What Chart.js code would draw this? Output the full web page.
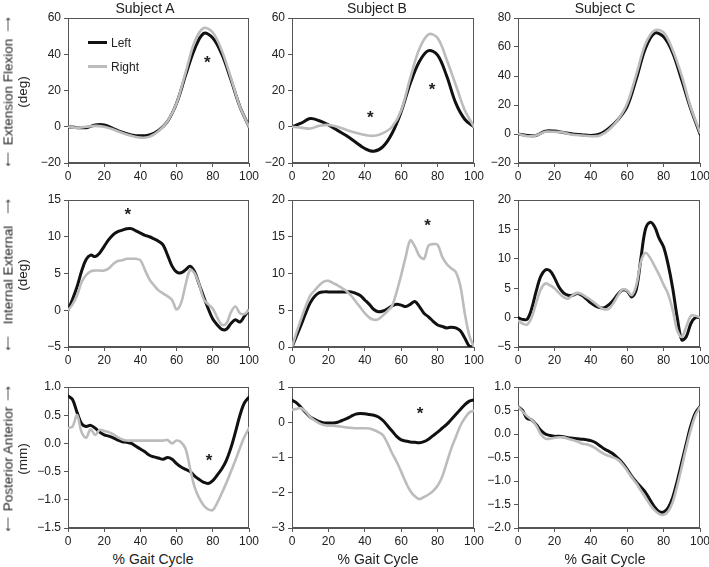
<!DOCTYPE html>
<html lang="en">
<head>
<meta charset="UTF-8">
<title>Knee kinematics, Subjects A-C</title>
<script src="https://cdn.jsdelivr.net/npm/chart.js@4.4.1/dist/chart.umd.min.js"></script>
<style>
  body { margin: 0; background: #fff; font-family: "Liberation Sans", Arial, sans-serif; color: #222; }
  #page { position: relative; width: 709px; height: 567px; overflow: hidden; }
  .panel { position: absolute; }
  .txt { position: absolute; white-space: nowrap; transform: translate(-50%, -50%); font-size: 14px; }
  .ylab { position: absolute; height: 16px; line-height: 16px; font-size: 13.5px; white-space: nowrap; color: #222;
          display: flex; justify-content: space-between; align-items: center; transform: rotate(-90deg);
          will-change: transform; }
  .ylab .arr { font-family: "DejaVu Sans", sans-serif; font-size: 10px; }
  .key { position: absolute; height: 3px; width: 19px; }
  .keytxt { position: absolute; font-size: 12px; line-height: 14px; }
</style>
</head>
<body>
<div id="page"></div>

<script>
// % gait cycle sampling
const gaitCoarse = [0,5,10,15,20,25,30,35,40,45,50,55,60,65,70,75,80,85,90,95,100];
const gaitFine = [0,2.5,5,7.5,10,12.5,15,17.5,20,22.5,25,27.5,30,32.5,35,37.5,40,42.5,45,47.5,50,
                  52.5,55,57.5,60,62.5,65,67.5,70,72.5,75,77.5,80,82.5,85,87.5,90,92.5,95,97.5,100];

const subjects = ['Subject A', 'Subject B', 'Subject C'];

// row 1: extension / flexion (deg)
const flexLeftA  = [0,-0.5,-0.5,1,1,-1,-3,-4.5,-5,-4.5,-2,3,13,28.5,43,51.5,49,40,26,11,0];
const flexRightA = [0,-0.5,0,0.5,0,-1.5,-3.5,-5,-6,-5.5,-2.5,3,13,30,47,54.5,52,42,27,11,0];
const flexLeftB  = [0,2,4.5,3.3,1,-2,-5,-8.5,-12,-13.5,-11,-3.6,8.3,24,36,42,39.5,28,13,4,0];
const flexRightB = [0,-0.5,-1,0.5,1,0,-1.8,-3.3,-4.5,-5,-3.5,0,9,27,43,51,49,37,23,9,0];
const flexLeftC  = [0,-1,-1,2,2,1,0,-0.5,-1,0,4,10,19,38,59,69.5,67,56,37,17,0];
const flexRightC = [0,-1.5,-1,1.5,1.5,1,-0.5,-1,-1.5,-1,3,10,21,41,62,71.5,70,58,40,18,1];

// row 2: internal / external rotation (deg)
const rotLeftA  = [0,1.5,3.2,5.3,6.9,7.5,7.3,7.8,8.7,9.6,10.3,10.7,10.9,11.1,11.1,10.8,10.5,10.2,10.0,9.7,9.4,
                   8.9,7.5,6.0,5.2,5.1,5.5,6.0,5.2,3.5,1.8,0.2,-1.2,-2.0,-2.6,-2.6,-1.8,-1.3,-1.6,-0.8,0];
const rotRightA = [0,0.8,2.0,3.8,4.8,5.3,5.4,5.4,5.4,5.7,6.3,6.7,6.8,7.0,7.0,7.0,6.8,5.5,4.2,3.4,2.7,
                   2.3,1.9,1.4,0.1,1.0,3.5,5.5,5.0,3.5,1.5,0.8,0.2,-1.0,-2.0,-1.8,-0.3,0.5,-0.4,-0.5,0];
const rotLeftB  = [0,1.5,3.0,4.6,6.0,6.9,7.4,7.5,7.5,7.5,7.5,7.5,7.5,7.5,7.3,7.0,6.4,5.8,5.1,4.8,4.9,
                   5.2,5.6,5.8,5.7,5.5,5.8,6.2,5.5,4.6,4.1,3.5,3.0,2.8,2.6,2.7,2.6,2.2,1.2,0.1,0];
const rotRightB = [0,2.0,3.8,5.5,7.0,7.7,8.4,8.9,9.0,8.7,8.4,8.0,7.6,7.0,6.2,5.4,4.6,4.0,3.7,3.8,4.3,
                   4.9,5.6,7.5,9.8,12.3,14.5,13.7,12.4,12.0,13.8,14.0,13.9,12.3,11.3,10.7,10.2,8.3,4.5,1.5,0];
const rotLeftC  = [0,-0.3,-0.3,1.5,4.5,7.0,8.1,8.0,6.8,5.2,4.2,3.8,3.8,4.1,3.8,3.2,2.5,2.0,1.7,1.7,2.2,
                   3.0,4.0,4.7,4.5,3.5,4.8,10.0,15.0,16.2,15.5,13.5,12.0,9.0,5.0,0,-3.8,-3.2,-1.0,0,0];
const rotRightC = [-0.5,-1.0,-1.2,0,2.5,4.8,5.8,5.5,5.0,4.2,3.5,3.2,3.8,4.2,4.0,3.5,3.0,2.4,1.8,1.4,1.5,
                   2.5,3.8,4.8,4.6,3.8,5.5,9.5,11.0,10.2,8.8,7.3,5.6,4.0,1.3,-2.2,-3.3,-1.5,0.3,0.3,0];

// row 3: posterior / anterior translation (mm)
const transLeftA  = [0.84,0.78,0.55,0.35,0.3,0.32,0.27,0.2,0.15,0.13,0.1,0.06,0.03,0.02,0,-0.05,-0.1,-0.15,-0.21,-0.24,-0.26,
                     -0.28,-0.25,-0.28,-0.36,-0.42,-0.46,-0.5,-0.58,-0.64,-0.69,-0.71,-0.66,-0.56,-0.45,-0.3,-0.08,0.2,0.5,0.72,0.82];
const transRightA = [0.27,0.3,0.5,0.2,0.1,0.25,0.15,0.24,0.22,0.2,0.16,0.11,0.07,0.05,0.05,0.05,0.05,0.05,0.05,0.05,0.05,
                     0.05,0.06,0.0,0.05,0.02,-0.1,-0.45,-0.78,-0.97,-1.1,-1.17,-1.18,-1.05,-0.88,-0.7,-0.5,-0.3,-0.08,0.12,0.27];
const transLeftB  = [0.62,0.55,0.42,0.28,0.15,0.08,0.02,-0.02,-0.02,-0.02,0.0,0.05,0.1,0.17,0.23,0.25,0.24,0.22,0.2,0.15,0.05,
                     -0.1,-0.25,-0.4,-0.5,-0.53,-0.56,-0.57,-0.58,-0.55,-0.48,-0.38,-0.28,-0.17,-0.06,0.08,0.22,0.36,0.5,0.6,0.63];
const transRightB = [0.35,0.38,0.4,0.3,0.15,0.05,-0.03,-0.08,-0.1,-0.1,-0.11,-0.13,-0.15,-0.16,-0.17,-0.17,-0.17,-0.18,-0.22,-0.28,-0.37,
                     -0.6,-0.88,-1.12,-1.4,-1.7,-1.95,-2.1,-2.18,-2.12,-2.05,-1.95,-1.8,-1.55,-1.15,-0.75,-0.42,-0.1,0.12,0.28,0.33];
const transLeftC  = [0.58,0.5,0.33,0.3,0.2,0.08,0.0,-0.03,-0.05,-0.05,-0.06,-0.08,-0.09,-0.1,-0.11,-0.12,-0.14,-0.18,-0.25,-0.32,-0.37,
                     -0.43,-0.52,-0.62,-0.75,-0.9,-1.02,-1.13,-1.24,-1.4,-1.55,-1.65,-1.66,-1.57,-1.35,-1.0,-0.6,-0.2,0.18,0.45,0.58];
const transRightC = [0.58,0.48,0.38,0.3,0.18,0.0,-0.1,-0.1,-0.08,-0.07,-0.07,-0.1,-0.13,-0.16,-0.2,-0.22,-0.25,-0.3,-0.37,-0.43,-0.47,
                     -0.5,-0.55,-0.65,-0.78,-0.92,-1.05,-1.2,-1.35,-1.5,-1.62,-1.7,-1.72,-1.65,-1.45,-1.1,-0.7,-0.28,0.1,0.4,0.57];

// y axis [min, max, step, decimals]
const flexTicksAB = [-20, 60, 20, 0];
const flexTicksC  = [-20, 80, 20, 0];
const rotTicksA   = [-5, 15, 5, 0];
const rotTicksB   = [0, 20, 5, 0];
const rotTicksC   = [-5, 20, 5, 0];
const transTicksA = [-1.5, 1, 0.5, 1];
const transTicksB = [-3, 1, 1, 0];
const transTicksC = [-2, 1, 0.5, 1];

// significance markers [% gait, value]
const starsFlexA  = [[77, 37]];
const starsFlexB  = [[43, 7], [77, 22.5]];
const starsRotA   = [[33, 13.5]];
const starsRotB   = [[74.5, 17]];
const starsTransA = [[78, -0.24]];
const starsTransB = [[70.3, 0.35]];

const rowLabels = [
  ['Extension', 'Flexion', '(deg)'],
  ['Internal', 'External', '(deg)'],
  ['Posterior', 'Anterior', '(mm)']
];

// plot box geometry
const colLeft = [68, 292, 518], colRight = [249, 474, 700];
const rowTop = [18, 200, 387], rowBottom = [163, 347, 528];
const AXIS_W = 50, AXIS_H = 22, PAD_T = 8, PAD_R = 14;

const panels = [
  { r: 0, c: 0, xs: gaitCoarse, left: flexLeftA, right: flexRightA, ticks: flexTicksAB, stars: starsFlexA },
  { r: 0, c: 1, xs: gaitCoarse, left: flexLeftB, right: flexRightB, ticks: flexTicksAB, stars: starsFlexB },
  { r: 0, c: 2, xs: gaitCoarse, left: flexLeftC, right: flexRightC, ticks: flexTicksC, stars: [] },
  { r: 1, c: 0, xs: gaitFine, left: rotLeftA, right: rotRightA, ticks: rotTicksA, stars: starsRotA },
  { r: 1, c: 1, xs: gaitFine, left: rotLeftB, right: rotRightB, ticks: rotTicksB, stars: starsRotB },
  { r: 1, c: 2, xs: gaitFine, left: rotLeftC, right: rotRightC, ticks: rotTicksC, stars: [] },
  { r: 2, c: 0, xs: gaitFine, left: transLeftA, right: transRightA, ticks: transTicksA, stars: starsTransA },
  { r: 2, c: 1, xs: gaitFine, left: transLeftB, right: transRightB, ticks: transTicksB, stars: starsTransB },
  { r: 2, c: 2, xs: gaitFine, left: transLeftC, right: transRightC, ticks: transTicksC, stars: [] }
];

const page = document.getElementById('page');
const tickFont = { family: '"Liberation Sans", Arial, sans-serif', size: 12 };

function toPoints(xs, ys) {
  return ys.map((y, i) => ({ x: xs[i], y: y }));
}

function addText(cls, text, x, y) {
  const d = document.createElement('div');
  d.className = cls;
  d.textContent = text;
  d.style.left = x + 'px';
  d.style.top = y + 'px';
  page.appendChild(d);
  return d;
}

// box around the plot area
const frame = {
  id: 'frame',
  beforeDatasetsDraw(chart) {
    const a = chart.chartArea, ctx = chart.ctx;
    ctx.save();
    ctx.strokeStyle = '#555';
    ctx.lineWidth = 1;
    ctx.strokeRect(Math.round(a.left) + 0.5, Math.round(a.top) + 0.5,
                   Math.round(a.width) - 1, Math.round(a.height) - 1);
    ctx.restore();
  }
};

function starPlugin(points) {
  return {
    id: 'stars',
    afterDatasetsDraw(chart) {
      const ctx = chart.ctx, x = chart.scales.x, y = chart.scales.y;
      ctx.save();
      ctx.font = 'bold 17px "Liberation Sans", Arial, sans-serif';
      ctx.fillStyle = '#222';
      ctx.textAlign = 'center';
      ctx.textBaseline = 'middle';
      points.forEach(p => ctx.fillText('*', x.getPixelForValue(p[0]), y.getPixelForValue(p[1]) + 4));
      ctx.restore();
    }
  };
}

function fmt(dec) {
  return v => (v < -1e-9 ? '\u2212' : '') + Math.abs(v).toFixed(dec);
}

panels.forEach(p => {
  const plotW = colRight[p.c] - colLeft[p.c];
  const plotH = rowBottom[p.r] - rowTop[p.r];
  const wrap = document.createElement('div');
  wrap.className = 'panel';
  wrap.style.left = (colLeft[p.c] - AXIS_W) + 'px';
  wrap.style.top = (rowTop[p.r] - PAD_T) + 'px';
  wrap.style.width = (AXIS_W + plotW + PAD_R) + 'px';
  wrap.style.height = (PAD_T + plotH + AXIS_H) + 'px';
  const canvas = document.createElement('canvas');
  wrap.appendChild(canvas);
  page.appendChild(wrap);

  const grid = { drawOnChartArea: false, drawTicks: true, tickLength: 4, color: '#555' };

  new Chart(canvas, {
    type: 'line',
    data: {
      datasets: [
        { label: 'Right', data: toPoints(p.xs, p.right), borderColor: '#bcbcbc', borderWidth: 2.6 },
        { label: 'Left', data: toPoints(p.xs, p.left), borderColor: '#111', borderWidth: 3 }
      ]
    },
    options: {
      responsive: true,
      maintainAspectRatio: false,
      animation: false,
      layout: { padding: { top: PAD_T, right: PAD_R, left: 0, bottom: 0 } },
      elements: {
        point: { radius: 0 },
        line: { tension: 0.35, borderCapStyle: 'round', borderJoinStyle: 'round' }
      },
      plugins: { legend: { display: false }, tooltip: { enabled: false } },
      scales: {
        x: {
          type: 'linear', min: 0, max: 100,
          ticks: { stepSize: 20, font: tickFont, color: '#222', padding: 2, maxRotation: 0 },
          grid: grid, border: { color: '#555' },
          afterFit(s) { s.height = AXIS_H; s.paddingLeft = 0; s.paddingRight = 0; }
        },
        y: {
          min: p.ticks[0], max: p.ticks[1],
          ticks: { stepSize: p.ticks[2], font: tickFont, color: '#222', padding: 3, callback: fmt(p.ticks[3]) },
          grid: grid, border: { color: '#555' },
          afterFit(s) { s.width = AXIS_W; s.paddingTop = 0; s.paddingBottom = 0; }
        }
      }
    },
    plugins: [frame, starPlugin(p.stars)]
  });
});

// column titles and x axis titles
const titleX = [145, 377, 605];
const gaitX = [153, 378, 605];
subjects.forEach((s, i) => addText('txt', s, titleX[i], 8));
gaitX.forEach(x => addText('txt', '% Gait Cycle', x, 559));

// rotated row labels
rowLabels.forEach((lab, r) => {
  const len = rowBottom[r] - rowTop[r] + 4;
  const cy = (rowTop[r] + rowBottom[r]) / 2 + 1;
  const l1 = document.createElement('div');
  l1.className = 'ylab';
  l1.style.width = len + 'px';
  l1.style.left = (8 - len / 2) + 'px';
  l1.style.top = (cy - 8) + 'px';
  l1.innerHTML = '<span class="arr">\u27F5</span><span></span><span class="arr">\u27F6</span>';
  l1.children[1].textContent = lab[0] + ' ' + lab[1];
  page.appendChild(l1);
  const l2 = document.createElement('div');
  l2.className = 'ylab';
  l2.style.width = '60px';
  l2.style.justifyContent = 'center';
  l2.style.left = (23 - 30) + 'px';
  l2.style.top = (cy - 8) + 'px';
  l2.textContent = lab[2];
  page.appendChild(l2);
});

// legend in first panel
[['#111', 'Left', 41], ['#bcbcbc', 'Right', 65]].forEach(k => {
  const line = document.createElement('div');
  line.className = 'key';
  line.style.background = k[0];
  line.style.left = '88px';
  line.style.top = k[2] + 'px';
  page.appendChild(line);
  const t = document.createElement('div');
  t.className = 'keytxt';
  t.textContent = k[1];
  t.style.left = '111px';
  t.style.top = (k[2] - 5) + 'px';
  page.appendChild(t);
});
</script>
</body>
</html>
